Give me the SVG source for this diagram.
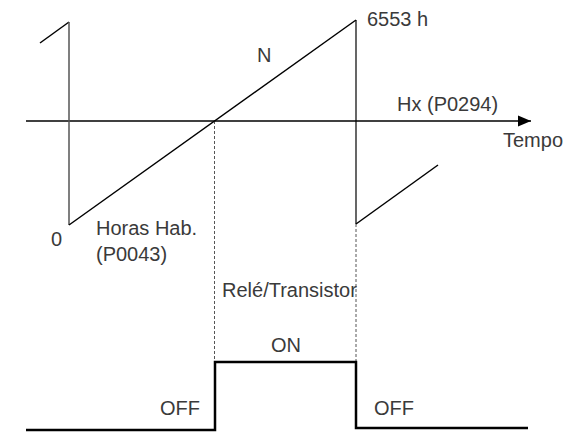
<svg xmlns="http://www.w3.org/2000/svg" width="572" height="432" viewBox="0 0 572 432">
<style>
.t{font-family:"Liberation Sans",Arial,sans-serif;font-size:20px;fill:#3a3a3a}
.ln{stroke:#000;stroke-width:1.5;fill:none}
.th{stroke:#000;stroke-width:2.5;fill:none}
.dash{stroke:#555;stroke-width:1;stroke-dasharray:3,2;fill:none}
</style>
<defs>
<marker id="arr" markerWidth="14" markerHeight="12" refX="13" refY="6" orient="auto" markerUnits="userSpaceOnUse">
<path d="M0,0.5 L13,6 L0,11.5 z" fill="#000"/>
</marker>
</defs>
<rect width="572" height="432" fill="#fff"/>
<g id="connectors">
<line class="ln" x1="26" y1="121" x2="531" y2="121" marker-end="url(#arr)"/>
<line class="dash" x1="214.5" y1="121" x2="214.5" y2="362"/>
<line class="dash" x1="356" y1="224" x2="356" y2="362"/>
</g>
<g id="sawtooth">
<line class="ln" x1="40" y1="43" x2="69" y2="22"/>
<line x1="69" y1="22" x2="69" y2="225" stroke="#555" stroke-width="1.5"/>
<line class="ln" x1="69" y1="225" x2="356" y2="20"/>
<line x1="356" y1="20" x2="356" y2="224" stroke="#000" stroke-width="1.2"/>
<line class="ln" x1="356" y1="224" x2="438" y2="165"/>
</g>
<g id="pulse">
<polyline class="th" points="26,430 215,430 215,362 356,362 356,428 528,428"/>
</g>
<g id="labels">
<text class="t" x="367" y="26">6553 h</text>
<text class="t" x="257" y="62">N</text>
<text class="t" x="397" y="111">Hx (P0294)</text>
<text class="t" x="503" y="147">Tempo</text>
<text class="t" x="51" y="246">0</text>
<text class="t" x="96" y="235">Horas Hab.</text>
<text class="t" x="96" y="261">(P0043)</text>
<text class="t" x="222" y="297">Relé/Transistor</text>
<text class="t" x="271" y="352">ON</text>
<text class="t" x="160" y="415">OFF</text>
<text class="t" x="374" y="415">OFF</text>
</g>
</svg>
